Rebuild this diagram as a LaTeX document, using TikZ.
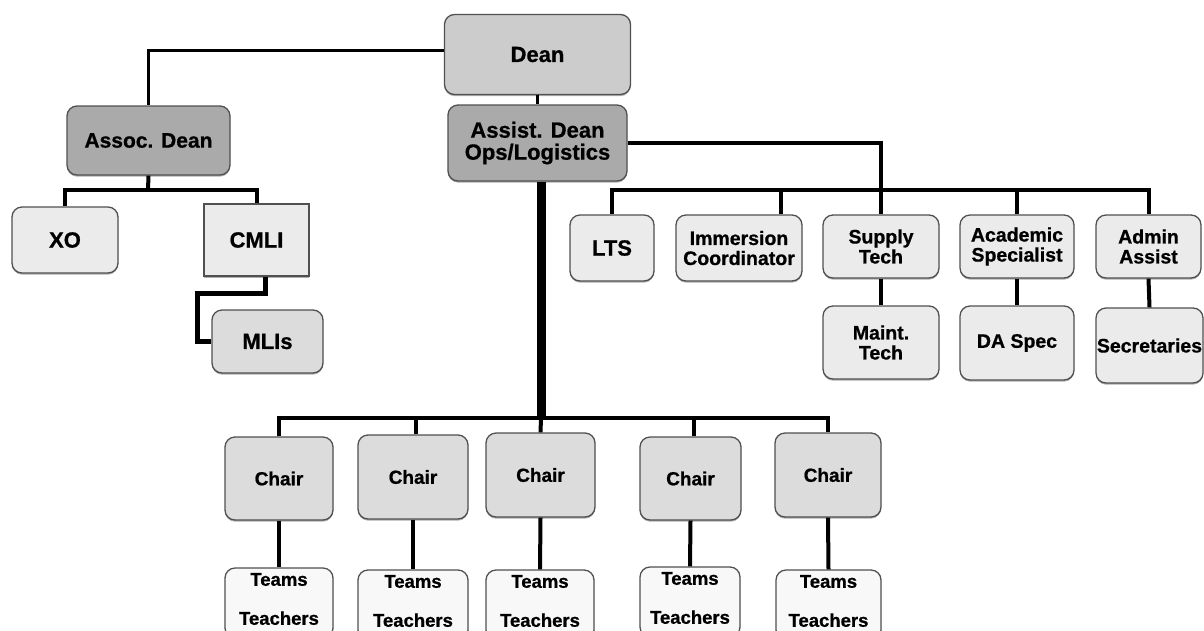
\documentclass[tikz,border=0pt]{standalone}
\usepackage{fontspec}
\setmainfont{Liberation Sans}[BoldFeatures={FakeBold=0.8}]
\usetikzlibrary{shadows}
\definecolor{edge}{HTML}{505050}
\definecolor{deanfill}{HTML}{CCCCCC}
\definecolor{darkfill}{HTML}{AAAAAA}
\definecolor{lightfill}{HTML}{EBEBEB}
\definecolor{midfill}{HTML}{DCDCDC}
\definecolor{palefill}{HTML}{F8F8F8}
\newcommand{\fs}[1]{\fontsize{#1}{20}\selectfont}
\begin{document}
\begin{tikzpicture}[x=1pt,y=-1pt,
  box/.style={draw=edge, line width=1.3pt, rounded corners=10pt, inner sep=0pt,
    align=center, font=\bfseries, text=black,
    drop shadow={shadow xshift=0pt, shadow yshift=-1.6pt, opacity=0.45, fill=black!70}},
  sq/.style={box, rounded corners=0pt},
  link/.style={line width=4pt, black},
  thinlink/.style={line width=3pt, black},
  trunk/.style={line width=9pt, black},
  chairbox/.style={box, fill=midfill, font=\bfseries\fs{19}},
  teamsbox/.style={box, fill=palefill, minimum height=70,
    label={[font=\bfseries\fs{18.5}, align=center, yshift=4pt]center:Teams\\[19pt]Teachers}},
  topbox/.style={box, fill=lightfill, font=\bfseries\fs{19.5}}
]
\useasboundingbox[fill=white] (0,0) rectangle (1204,630);

% top levels
\node[box, fill=deanfill, minimum width=186, minimum height=80, font=\bfseries\fs{22}] (dean) at (537.5,54.5) {Dean};
\node[box, fill=darkfill, minimum width=163, minimum height=69, font=\bfseries\fs{21}] (adean) at (148.5,140.5) {Assoc. Dean};
\node[box, fill=darkfill, minimum width=179, minimum height=76, font=\bfseries\fontsize{22}{22}\selectfont] (asst) at (537.5,143) {Assist. Dean\\Ops/Logistics};

% associate dean branch
\node[box, fill=lightfill, minimum width=106, minimum height=66, font=\bfseries\fs{22}] (xo) at (65,240) {XO};
\node[sq, fill=lightfill, minimum width=105, minimum height=72, font=\bfseries\fs{22}] (cmli) at (256.5,240) {CMLI};
\node[box, fill=midfill, minimum width=111, minimum height=63, font=\bfseries\fs{22}] (mlis) at (267.5,341.5) {MLIs};

% operations / logistics staff
\node[topbox, minimum width=84, minimum height=66, font=\bfseries\fs{22}] (lts) at (612,248) {LTS};
\node[topbox, minimum width=126, minimum height=66] (imm) at (739,248) {Immersion\\Coordinator};
\node[topbox, minimum width=116, minimum height=63] (sup) at (881,246.5) {Supply\\Tech};
\node[topbox, minimum width=114, minimum height=63] (acad) at (1017,246.5) {Academic\\Specialist};
\node[topbox, minimum width=105, minimum height=63] (adm) at (1148.5,246.5) {Admin\\Assist};
\node[topbox, minimum width=116, minimum height=73] (maint) at (881,342.5) {Maint.\\Tech};
\node[topbox, minimum width=114, minimum height=74] (daspec) at (1017,343) {DA Spec};
\node[topbox, minimum width=107, minimum height=75] (secr) at (1149.5,345.5) {Secretaries};

% department chairs
\node[chairbox, minimum width=108, minimum height=83] (ch1) at (279,478.5) {Chair};
\node[chairbox, minimum width=110, minimum height=84] (ch2) at (413,477) {Chair};
\node[chairbox, minimum width=109, minimum height=84] (ch3) at (540.5,475) {Chair};
\node[chairbox, minimum width=101, minimum height=83] (ch4) at (690.5,478.5) {Chair};
\node[chairbox, minimum width=106, minimum height=84] (ch5) at (828,475) {Chair};

% teaching teams
\node[teamsbox, minimum width=108] (t1) at (279,603) {};
\node[teamsbox, minimum width=110] (t2) at (413,605) {};
\node[teamsbox, minimum width=108] (t3) at (540,605) {};
\node[teamsbox, minimum width=100] (t4) at (690,602) {};
\node[teamsbox, minimum width=105] (t5) at (828.5,605) {};

% bus junctions
\coordinate (busA) at (148,190);
\coordinate (busR) at (881,190);
\coordinate (busB) at (541,418);

% connectors
\draw[thinlink] ([yshift=4.5pt]dean.west) -| (adean.north);
\draw[thinlink] (dean.south) -- (asst.north);
\draw[link] (adean.south) -- (busA);
\draw[link] (xo.north) |- (busA) -| (cmli.north);
\draw[line width=5pt] ([xshift=8.5pt]cmli.south) |- ++(-68,17) |- (mlis.west);

\draw[link] (asst.east) -| (sup.north);
\draw[link] (lts.north) |- (busR) -| (adm.north);
\draw[link] ([xshift=42pt]imm.north) |- (busR);
\draw[link] (acad.north) |- (busR);
\draw[link] (sup.south) -- (maint.north);
\draw[link] (acad.south) -- (daspec.north);
\draw[link] (adm.south) -- (secr.north);

\draw[trunk] ([xshift=3.5pt]asst.south) -- (busB);
\draw[link] (ch1.north) |- (busB) -| (ch5.north);
\draw[link] ([xshift=3pt]ch2.north) |- (busB);
\draw[link] ([xshift=3.5pt]ch4.north) |- (busB);
\draw[link] (busB) -- (ch3.north);
\foreach \c/\t in {ch1/t1,ch2/t2,ch3/t3,ch4/t4,ch5/t5}
  \draw[link] (\c.south) -- (\t.north);
\end{tikzpicture}
\end{document}
